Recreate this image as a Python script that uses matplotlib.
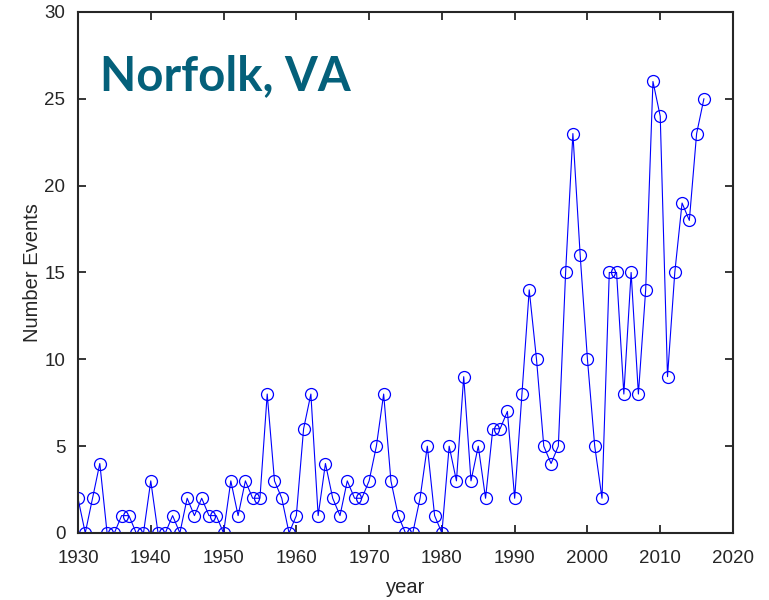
import numpy as np
import matplotlib
matplotlib.use('Agg')
import matplotlib.pyplot as plt

# yearly counts, Norfolk VA
years = list(range(1930, 2017))
events = [2, 0, 2, 4, 0, 0, 1, 1, 0, 0,
          3, 0, 0, 1, 0, 2, 1, 2, 1, 1,
          0, 3, 1, 3, 2, 2, 8, 3, 2, 0,
          1, 6, 8, 1, 4, 2, 1, 3, 2, 2,
          3, 5, 8, 3, 1, 0, 0, 2, 5, 1,
          0, 5, 3, 9, 3, 5, 2, 6, 6, 7,
          2, 8, 14, 10, 5, 4, 5, 15, 23, 16,
          10, 5, 2, 15, 15, 8, 15, 8, 14, 26,
          24, 9, 15, 19, 18, 23, 25]

x_ticks = list(range(1930, 2021, 10))
y_ticks = [0, 5, 10, 15, 20, 25, 30]

plt.rcParams['font.family'] = ['Liberation Sans', 'DejaVu Sans']

fig = plt.figure(figsize=(7.69, 6.0), dpi=100)
ax = fig.add_axes([0.1014, 0.1117, 0.8518, 0.8683])

ax.plot(years, events, color='#0000ff', lw=0.8, marker='o', markersize=8.6,
        markerfacecolor='none', markeredgecolor='#0000ff', markeredgewidth=0.9)

ax.set_xlim(1930, 2020)
ax.set_ylim(0, 30)
ax.set_xticks(x_ticks)
ax.set_yticks(y_ticks)
ax.tick_params(direction='in', length=6, width=1.3, top=True, right=True,
               labelsize=13.5, colors='#262626')
ax.tick_params(axis='x', pad=12)
ax.tick_params(axis='y', pad=9)
for s in ax.spines.values():
    s.set_linewidth(1.5)
    s.set_color('#262626')

ax.set_xlabel('year', fontsize=14.5, color='#262626', labelpad=8)
ax.set_ylabel('Number Events', fontsize=14.5, color='#262626', labelpad=2)

ax.text(0.033, 0.85, 'Norfolk, VA', transform=ax.transAxes, fontsize=34,
        fontweight='bold', family='Lato', color='#04607a', va='baseline')

fig.savefig('out.png', dpi=100)
